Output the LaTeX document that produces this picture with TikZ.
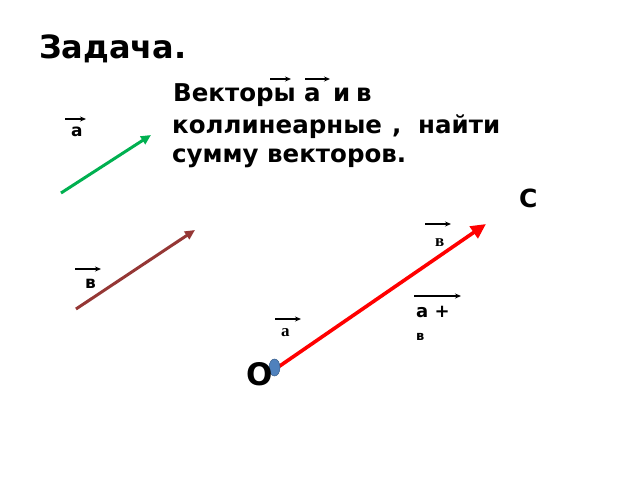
\documentclass[tikz,border=0pt]{standalone}
\usepackage{fontspec}
\setmainfont{DejaVu Sans}
\newfontfamily\serifb{Liberation Serif}
\usetikzlibrary{arrows.meta,shapes.geometric}
\definecolor{vgreen}{HTML}{00B050}
\definecolor{vbrown}{HTML}{953735}
\definecolor{vred}{HTML}{FF0000}
\definecolor{vblue}{HTML}{4F81BD}
\definecolor{vblueborder}{HTML}{385D8A}
\begin{document}
\begin{tikzpicture}[x=1pt,y=-1pt,
  txt/.style={inner sep=0pt, anchor=base west, font=\bfseries\fontsize{24.5}{28}\selectfont},
  lbl/.style={-{Stealth[length=6pt,width=5pt]}, line width=1.3pt},
  vec/.style={-{Triangle[length=10pt,width=9pt]}, line width=3pt},
  dotstyle/.style={ellipse, minimum width=11pt, minimum height=17pt, inner sep=0pt}]
\useasboundingbox (0,0) rectangle (640,480);
% title
\node[txt, font=\bfseries\fontsize{32}{36}\selectfont] (title) at (39,58) {Задача.};
% text block
\node[txt] (l1a) at (173,101) {Векторы};
\node[txt] (l1b) at (304,101) {а};
\node[txt] (l1c) at (333,101) {и};
\node[txt] (l1d) at (356,101) {в};
\node[txt] (l2a) at (172,133) {коллинеарные};
\node[txt] (l2b) at (392,133) {,};
\node[txt] (l2c) at (418,133) {найти};
\node[txt] (l3) at (172,162) {сумму векторов.};
\coordinate (t1a) at (270,79); \coordinate (t1b) at (291,79);
\coordinate (t2a) at (305,79); \coordinate (t2b) at (330,79);
\draw[lbl] (t1a) -- (t1b);
\draw[lbl] (t2a) -- (t2b);
% green vector a
\coordinate (ga) at (61,193); \coordinate (gb) at (151,135);
\draw[vec, vgreen] (ga) -- (gb);
\node[txt, font=\bfseries\fontsize{17}{20}\selectfont] (la) at (71,136) {а};
\coordinate (laa) at (65,119); \coordinate (lab) at (86,119);
\draw[lbl] (laa) -- (lab);
% brown vector b
\coordinate (ba) at (76,309); \coordinate (bb) at (195,230);
\draw[vec, vbrown] (ba) -- (bb);
\node[txt, font=\bfseries\fontsize{17}{20}\selectfont] (lb) at (85,288) {в};
\coordinate (lba) at (75,269); \coordinate (lbb) at (101,269);
\draw[lbl] (lba) -- (lbb);
% red sum vector
\coordinate (ra) at (271,372); \coordinate (rb) at (486,224);
\draw[vec, vred, line width=3.6pt, -{Triangle[length=15pt,width=14pt]}] (ra) -- (rb);
\node[dotstyle, fill=vblue, draw=vblueborder, line width=0.5pt] (dot) at (274.5,367.5) {};
% O and C
\node[txt, font=\bfseries\fontsize{31}{36}\selectfont] (O) at (246,385) {O};
\node[txt, font=\bfseries\fontsize{25}{30}\selectfont] (C) at (519,207) {С};
% serif labels
\node[txt, font=\serifb\bfseries\fontsize{17}{20}\selectfont] (sb) at (435,246) {в};
\coordinate (sba) at (425,224); \coordinate (sbb) at (451,224);
\draw[lbl] (sba) -- (sbb);
\node[txt, font=\serifb\bfseries\fontsize{17}{20}\selectfont] (sa) at (281,336) {а};
\coordinate (saa) at (275,319); \coordinate (sab) at (301,319);
\draw[lbl] (saa) -- (sab);
% a + b label
\node[txt, font=\bfseries\fontsize{18}{22}\selectfont] (sum1) at (416,317) {а +};
\node[txt, font=\bfseries\fontsize{13}{16}\selectfont] (sum2) at (416,340) {в};
\coordinate (sma) at (414,296); \coordinate (smb) at (461,296);
\draw[lbl] (sma) -- (smb);
\end{tikzpicture}
\end{document}
